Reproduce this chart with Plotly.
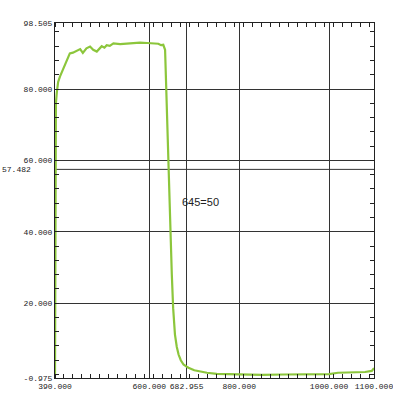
import plotly.graph_objects as go

wavelength = [390, 391, 392, 394, 397, 401, 406, 412, 418, 423, 430, 438, 446, 452, 460,
              468, 475, 483, 490, 494, 500, 505, 512, 520, 535, 550, 565, 579, 595, 609,
              620, 626, 631, 635, 640, 642, 646, 650, 653, 657, 661, 665, 670, 676, 682,
              687, 700, 715, 728, 750, 772, 800, 850, 900, 950, 1000, 1020, 1040, 1060,
              1080, 1095, 1100]
transmittance = [-0.5, 45, 76, 79, 82, 83.5, 85, 87.2, 88.8, 90.0, 90.2, 90.6, 91.2, 90.1, 91.4,
                 91.9, 91.0, 90.5, 91.6, 92.0, 91.6, 92.3, 92.1, 92.8, 92.6, 92.8, 92.9, 93.0, 92.9, 92.8,
                 92.7, 92.3, 92.4, 91.0, 68.6, 60.0, 42.0, 28.0, 18.6, 11.2, 7.8, 5.6, 4.0, 2.8, 2.3,
                 1.9, 1.2, 0.8, 0.5, 0.2, 0.1, 0.0, -0.1, 0.0, 0.1, 0.1, 0.5, 0.6, 0.5,
                 0.7, 1.0, 1.8]

x_ticks = [390, 600, 682.955, 800, 1000, 1100]
x_labels = ["390.000", "600.000", "682.955", "800.000", "1000.000", "1100.000"]
y_ticks = [-0.975, 20, 40, 60, 80, 98.505]
y_labels = ["-0.975", "20.000", "40.000", "60.000", "80.000", "98.505"]
marker_y = 57.482
marker_label = "57.482"
note_text = "645=50"
note_pos = (713, 48.4)

font = dict(family="Liberation Mono", size=8, color="#222222")

fig = go.Figure()
fig.add_trace(go.Scatter(x=wavelength, y=transmittance, mode="lines",
                         line=dict(color="#8cc63c", width=2.2), showlegend=False))

fig.add_shape(type="line", xref="x", yref="y", x0=390, x1=1100, y0=marker_y, y1=marker_y,
              line=dict(color="#333333", width=1), layer="below")
fig.add_annotation(xref="paper", yref="y", x=-0.068, y=marker_y, text=marker_label,
                   showarrow=False, xanchor="right", yanchor="middle", font=font)
fig.add_annotation(xref="x", yref="y", x=note_pos[0], y=note_pos[1], text=note_text,
                   showarrow=False, font=dict(family="Liberation Sans", size=11, color="#222222"))

fig.update_xaxes(range=[390, 1100], tickmode="array", tickvals=x_ticks, ticktext=x_labels,
                 tickangle=0, ticklabeloverflow="allow", automargin=False,
                 showgrid=True, gridcolor="#333333", gridwidth=1,
                 showline=True, linecolor="#222222", linewidth=1, mirror="allticks",
                 ticks="", tickfont=font, zeroline=False,
                 minor=dict(ticks="inside", dtick=20, tick0=390, ticklen=4,
                            tickcolor="#222222", showgrid=False))
fig.update_yaxes(range=[-0.975, 98.505], tickmode="array", tickvals=y_ticks, ticktext=y_labels,
                 automargin=False,
                 showgrid=True, gridcolor="#333333", gridwidth=1,
                 showline=True, linecolor="#222222", linewidth=1, mirror="allticks",
                 ticks="", tickfont=font, zeroline=False,
                 minor=dict(ticks="inside", dtick=4, tick0=0, ticklen=4,
                            tickcolor="#222222", showgrid=False))

fig.update_layout(width=393, height=400, margin=dict(l=55, r=19, t=23, b=22),
                  plot_bgcolor="white", paper_bgcolor="white")

fig.write_html("out.html")
